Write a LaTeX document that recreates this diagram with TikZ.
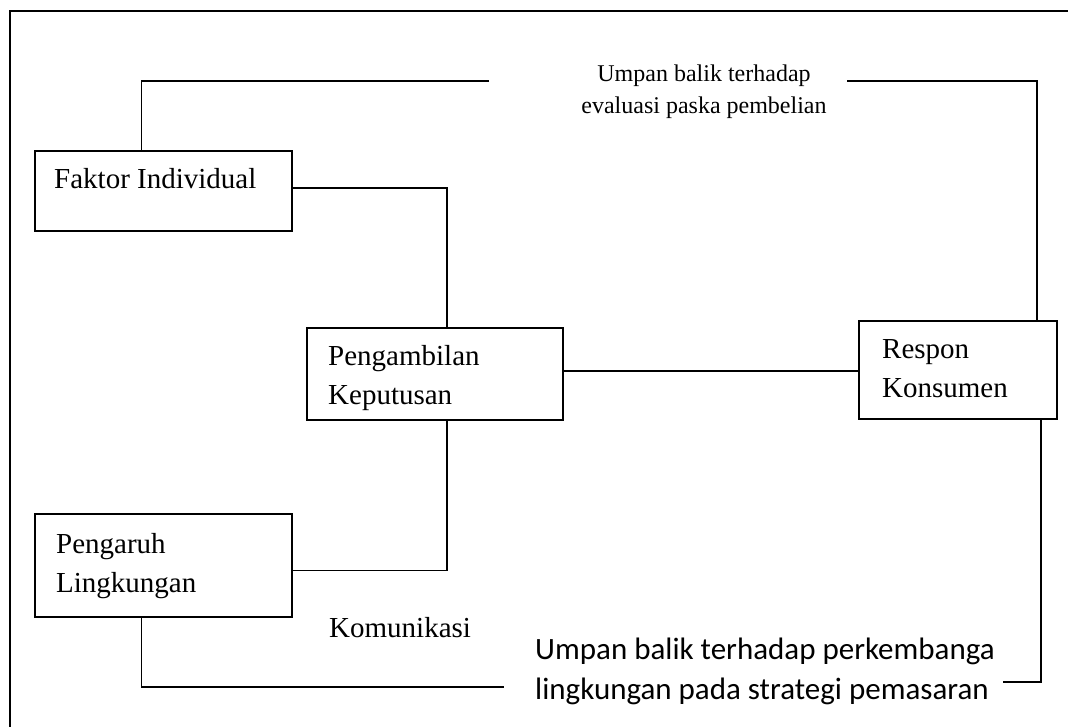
\documentclass[tikz,border=0pt]{standalone}
\usepackage{fontspec}
\setmainfont{Liberation Serif}
\newfontfamily\calibrifont{Carlito}
\usepackage{tikz}
\usetikzlibrary{positioning}
\tikzset{
  box/.style={draw,line width=1.6pt,rectangle,inner sep=0pt},
  boxtext/.style={anchor=north west,inner sep=0pt,align=left,font=\fontsize{29}{39}\selectfont},
  link/.style={line width=1.6pt},
}

\begin{document}
\begin{tikzpicture}[x=1pt,y=-1pt]
    \useasboundingbox (0,0) rectangle (1068,727);
    % outer frame (only left and top edge visible)
    \draw[line width=1.8pt] (10,730) -- (10,11) -- (1072,11);

    \node[box,minimum width=257pt,minimum height=80pt] (faktor) at (163.5,191) {};
    \node[box,minimum width=256pt,minimum height=92pt] (ambil) at (435,374) {};
    \node[box,minimum width=198pt,minimum height=98pt] (respon) at (958,370) {};
    \node[box,minimum width=257pt,minimum height=103pt] (pengaruh) at (163.5,565.5) {};

    \node[boxtext] (faktorT) at (54,168) {Faktor Individual};
    \node[boxtext] (ambilT) at (328,345) {Pengambilan\\Keputusan};
    \node[boxtext] (responT) at (882,339) {Respon\\Konsumen};
    \node[boxtext] (pengaruhT) at (56,533) {Pengaruh\\Lingkungan};
    \node[boxtext] (komT) at (329,617) {Komunikasi};

    \node[anchor=north,inner sep=0pt,align=center,font=\fontsize{24}{32}\selectfont] (evalT) at (704,64.5) {Umpan balik terhadap\\evaluasi paska pembelian};
    \node[anchor=north west,inner sep=0pt,align=left,font=\calibrifont\fontsize{31}{40}\selectfont] (strategiT) at (535,638) {Umpan balik terhadap perkembanga\\lingkungan pada strategi pemasaran};

    \coordinate (evalL) at (489,81);
    \coordinate (evalR) at (847,81);
    \coordinate (stratL) at (504,687);
    \coordinate (stratR) at (1003,682);

    \draw[link] ([yshift=3pt]faktor.east) -| ([xshift=12pt]ambil.north);
    \draw[link] ([yshift=-5pt]pengaruh.east) -| ([xshift=12pt]ambil.south);
    \draw[link] ([yshift=3pt]ambil.east) -- ([yshift=3pt]ambil.east -| respon.west);
    \draw[link] (evalL) -| ([xshift=-22pt]faktor.north);
    \draw[link] (evalR) -| ([xshift=-21pt]respon.north east);
    \draw[link] ([xshift=-22pt]pengaruh.south) |- (stratL);
    \draw[link] (stratR) -| ([xshift=-17pt]respon.south east);
\end{tikzpicture}
\end{document}
